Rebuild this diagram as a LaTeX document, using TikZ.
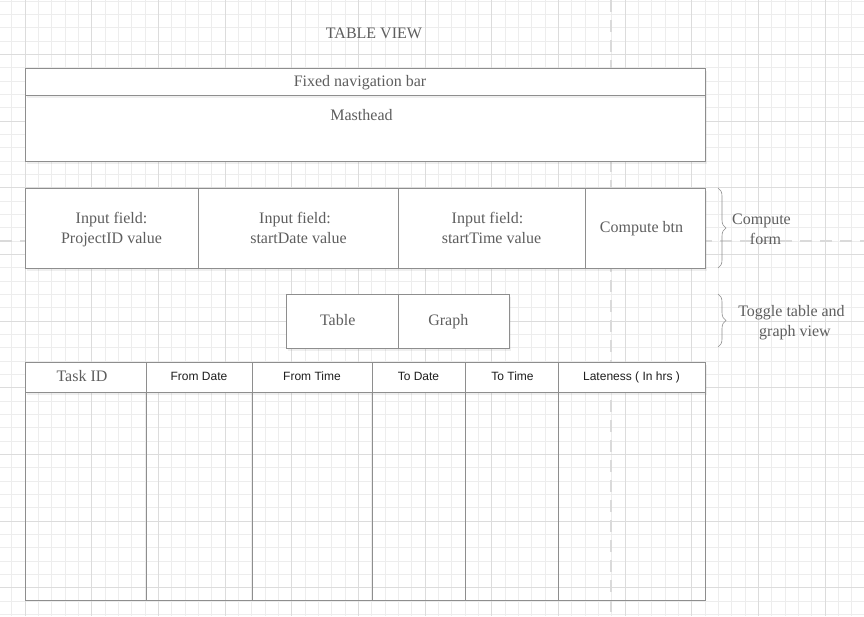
\documentclass[tikz,border=0pt]{standalone}
\usepackage{fontspec}
\setmainfont{Liberation Serif}
\newfontfamily\hsans{Liberation Sans}
\usetikzlibrary{shadows,decorations.pathreplacing}
\definecolor{minorgrid}{HTML}{EDEDED}
\definecolor{majorgrid}{HTML}{DCDCDC}
\definecolor{dashcol}{HTML}{DADADA}
\definecolor{bordercol}{HTML}{8E8E8E}
\definecolor{serifcol}{HTML}{5E5E5E}
\definecolor{sanscol}{HTML}{1E1E1E}
\newcommand{\mytopstrut}{\rule{0pt}{12pt}}
\tikzset{
  mingrid/.style={draw=minorgrid, line width=0.8pt},
  majgrid/.style={draw=majorgrid, line width=0.8pt},
  guide/.style={draw=dashcol, line width=2.6pt, dash pattern=on 12pt off 8pt},
  box/.style={draw=bordercol, fill=white, line width=0.8pt, inner sep=0pt, outer sep=0pt,
    drop shadow={opacity=0.12, shadow xshift=1.5pt, shadow yshift=-2.5pt}},
  plainbox/.style={draw=bordercol, line width=0.8pt, inner sep=0pt, outer sep=0pt},
  stxt/.style={text=serifcol, font=\fontsize{16}{20}\selectfont, inner sep=0pt, anchor=base},
  mtxt/.style={text=serifcol, font=\fontsize{16}{20}\selectfont, align=center, inner sep=0pt, anchor=north},
  htxt/.style={text=sanscol, font=\hsans\fontsize{12}{14}\selectfont, inner sep=0pt, anchor=base},
  bracestyle/.style={draw=bordercol, line width=0.6pt, decorate, decoration={brace, amplitude=8pt}},
}
\begin{document}
\begin{tikzpicture}[x=1pt, y=-1pt]
\useasboundingbox (0,0) rectangle (864,616);
\fill[white] (0,0) rectangle (864,616);
% grid
\foreach \i in {0,...,65} \draw[mingrid] ({-1.667+13.3333*\i},0) -- ++(0,616);
\foreach \i in {0,...,46} \draw[mingrid] (0,{1+13.3333*\i}) -- ++(864,0);
\foreach \i in {0,...,12} \draw[majgrid] ({25+66.6667*\i},0) -- ++(0,616);
\foreach \i in {-1,...,8} \draw[majgrid] (0,{54.333+66.6667*\i}) -- ++(864,0);
% guides
\coordinate (vg1) at (611,0); \coordinate (vg2) at (611,616);
\coordinate (hg1) at (0,241); \coordinate (hg2) at (864,241);
\draw[guide] (vg1) -- (vg2);
\draw[guide] (hg1) -- (hg2);
% title
\node[stxt] (title) at (374,38.5) {TABLE VIEW};
% masthead
\node[box, minimum width=680pt, minimum height=66pt] (mast) at (365,128) {};
\node[box, minimum width=680pt, minimum height=27pt] (nav) at (365,81.5) {};
\node[stxt] (navt) at (360,86.7) {Fixed navigation bar};
\node[stxt] (mastt) at (361.5,120) {Masthead};
% compute form
\node[box, minimum width=173pt, minimum height=80pt] (c1) at (111.5,228) {};
\node[box, minimum width=200pt, minimum height=80pt] (c2) at (298,228) {};
\node[box, minimum width=187pt, minimum height=80pt] (c3) at (491.5,228) {};
\node[box, minimum width=120pt, minimum height=80pt] (c4) at (645,228) {};
\node[mtxt] (c1t) at (111.5,211.3) {\mytopstrut Input field:\\ProjectID value};
\node[mtxt] (c2t) at (298.5,211.3) {\mytopstrut Input field:\kern7pt\\startDate value};
\node[mtxt] (c3t) at (491.5,211.3) {\mytopstrut Input field:\kern8pt\\startTime value};
\node[stxt] (c4t) at (641.5,232.3) {Compute btn};
% toggle
\node[box, minimum width=112pt, minimum height=54pt] (t1) at (342,321) {};
\node[box, minimum width=111pt, minimum height=54pt] (t2) at (453.5,321) {};
\node[stxt] (t1t) at (337.7,325) {Table};
\node[stxt] (t2t) at (448.3,325) {Graph};
% braces
\draw[bracestyle] ([xshift=13pt]c4.north east) -- ([xshift=13pt]c4.south east);
\draw[bracestyle] (718,294) -- (718,347);
\node[mtxt] (cf) at (765.5,211.8) {\mytopstrut Compute\kern8pt\\form};
\node[mtxt] (tg) at (795,304.3) {\mytopstrut Toggle table and\kern7pt\\graph view};
% table body
\node[plainbox, minimum width=121pt, minimum height=208pt] (b1) at (85.5,496) {};
\node[plainbox, minimum width=106pt, minimum height=208pt] (b2) at (199,496) {};
\node[plainbox, minimum width=120pt, minimum height=208pt] (b3) at (312,496) {};
\node[plainbox, minimum width=93pt, minimum height=208pt] (b4) at (418.5,496) {};
\node[plainbox, minimum width=93pt, minimum height=208pt] (b5) at (511.5,496) {};
\node[plainbox, minimum width=147pt, minimum height=208pt] (b6) at (631.5,496) {};
% table header
\node[box, minimum width=121pt, minimum height=30pt] (h1) at (85.5,377) {};
\node[box, minimum width=106pt, minimum height=30pt] (h2) at (199,377) {};
\node[box, minimum width=120pt, minimum height=30pt] (h3) at (312,377) {};
\node[box, minimum width=93pt, minimum height=30pt] (h4) at (418.5,377) {};
\node[box, minimum width=93pt, minimum height=30pt] (h5) at (511.5,377) {};
\node[box, minimum width=147pt, minimum height=30pt] (h6) at (631.5,377) {};
\node[stxt] (h1t) at (82,381.5) {Task ID};
\node[htxt] (h2t) at (199,380.5) {From Date};
\node[htxt] (h3t) at (312,380.5) {From Time};
\node[htxt] (h4t) at (418.5,380.5) {To Date};
\node[htxt] (h5t) at (512.5,380.5) {To Time};
\node[htxt] (h6t) at (631.5,380.5) {Lateness ( In hrs )};
\end{tikzpicture}
\end{document}
